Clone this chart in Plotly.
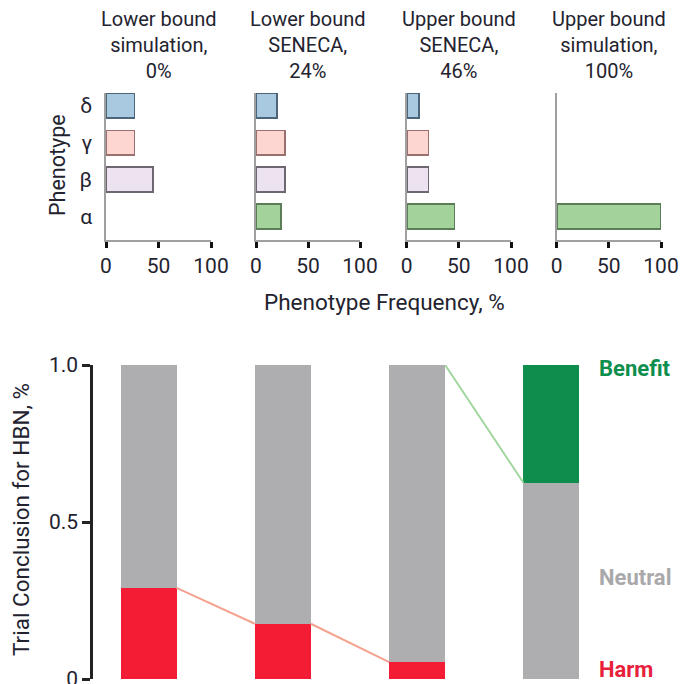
import plotly.graph_objects as go

# ---------------- data ----------------
phenotypes = ["α", "β", "γ", "δ"]
scenario_titles = [
    "Lower bound<br>simulation,<br>0%",
    "Lower bound<br>SENECA,<br>24%",
    "Upper bound<br>SENECA,<br>46%",
    "Upper bound<br>simulation,<br>100%",
]
freq_lower_sim = [0, 45, 27, 27]
freq_lower_seneca = [24, 28, 28, 20]
freq_upper_seneca = [46, 21, 21, 12]
freq_upper_sim = [100, 0, 0, 0]
freq_ticks = [0, 50, 100]

harm = [0.29, 0.176, 0.054, 0.0]
neutral = [0.71, 0.824, 0.946, 0.625]
benefit = [0.0, 0.0, 0.0, 0.375]
conclusion_ticks = [0, 0.5, 1.0]
conclusion_ticktext = ["0", "0.5", "1.0"]

# ---------------- style ----------------
W, H = 681, 684
FONT = "Roboto, DejaVu Sans, Liberation Sans, sans-serif"
TXT = "#23232f"
pheno_colors = ["#a3d39b", "#ede2f0", "#fdd6d1", "#a9c9e1"]
pheno_edges = ["#5b7d57", "#6e6670", "#9a6f6d", "#4d6578"]
c_harm, c_neutral, c_benefit = "#f41c34", "#aeaeb0", "#0e8e4d"

panel_px = [(106, 211), (256, 360), (406.7, 511), (556.7, 661)]
top_y_px = (93, 240)

freqs = [freq_lower_sim, freq_lower_seneca, freq_upper_seneca, freq_upper_sim]

fig = go.Figure()
layout = dict(
    template="none",
    width=W, height=H, margin=dict(l=0, r=0, t=0, b=0, pad=0), autosize=False,
    paper_bgcolor="white", plot_bgcolor="white", showlegend=False,
    barmode="stack", font=dict(family=FONT, color=TXT, size=20),
)
annotations = []

for i, (vals, title) in enumerate(zip(freqs, scenario_titles)):
    ax = "" if i == 0 else str(i + 1)
    fig.add_trace(go.Bar(
        x=vals, y=phenotypes, orientation="h", width=0.67,
        marker=dict(color=pheno_colors,
                    line=dict(color=pheno_edges, width=[1.6 if v > 0 else 0 for v in vals])),
        xaxis="x" + ax, yaxis="y" + ax,
    ))
    x0, x1 = panel_px[i]
    layout["xaxis" + ax] = dict(
        domain=[x0 / W, x1 / W], range=[0, 100], anchor="y" + ax, automargin=False,
        tickvals=freq_ticks, showgrid=False, zeroline=False,
        showline=True, linecolor="#a0a0a0", linewidth=1.5,
        ticks="outside", ticklen=6, tickwidth=3, tickcolor="#111",
        tickfont=dict(size=21, color=TXT), fixedrange=True, ticklabeloverflow="allow",
    )
    layout["yaxis" + ax] = dict(
        domain=[1 - top_y_px[1] / H, 1 - top_y_px[0] / H], anchor="x" + ax, automargin=False,
        type="category", categoryorder="array", categoryarray=phenotypes,
        range=[-0.64, 3.35], showgrid=False, zeroline=False,
        showline=True, linecolor="#a0a0a0", linewidth=1.5,
        showticklabels=(i == 0), ticks="", ticklabelstandoff=8,
        tickfont=dict(size=21, color=TXT), fixedrange=True,
    )
    annotations.append(dict(
        text=title, x=(x0 + x1) / 2 / W, y=1 - 5 / H, xref="paper", yref="paper",
        xanchor="center", yanchor="top", showarrow=False,
        font=dict(size=20, color=TXT),
    ))

annotations.append(dict(
    text="Phenotype", x=58 / W, y=1 - 165 / H, xref="paper", yref="paper",
    xanchor="center", yanchor="middle",
    textangle=-90, showarrow=False, font=dict(size=21.5, color=TXT),
))
annotations.append(dict(
    text="Phenotype Frequency, %", x=384 / W, y=1 - 302 / H, xref="paper", yref="paper",
    xanchor="center", yanchor="middle",
    showarrow=False, font=dict(size=22.5, color=TXT),
))

# ---------------- bottom stacked chart ----------------
pos = list(range(len(harm)))
bw = 0.417
for vals, col in [(harm, c_harm), (neutral, c_neutral), (benefit, c_benefit)]:
    fig.add_trace(go.Bar(
        x=pos, y=vals, width=bw, marker=dict(color=col, line=dict(width=0)),
        xaxis="x5", yaxis="y5",
    ))

def connectors(cum, pairs):
    xs, ys = [], []
    for a, b in pairs:
        xs += [pos[a] + bw / 2, pos[b] - bw / 2, None]
        ys += [cum[a], cum[b], None]
    return xs, ys

hx, hy = connectors(harm, [(0, 1), (1, 2)])
fig.add_trace(go.Scatter(x=hx, y=hy, mode="lines", line=dict(color="#f6a290", width=2),
                         xaxis="x5", yaxis="y5"))
top_neutral = [h + n for h, n in zip(harm, neutral)]
bx, by = connectors(top_neutral, [(2, 3)])
fig.add_trace(go.Scatter(x=bx, y=by, mode="lines", line=dict(color="#a2d5a0", width=2),
                         xaxis="x5", yaxis="y5"))

spacing = 134.3
left_px = 93
layout["xaxis5"] = dict(
    domain=[left_px / W, 1], range=[-(148.5 - left_px) / spacing, 3 + (W - 551.5) / spacing],
    anchor="y5", automargin=False, showgrid=False, zeroline=False, showline=False,
    showticklabels=False, ticks="", fixedrange=True,
)
layout["yaxis5"] = dict(
    domain=[5 / H, 1 - 365 / H], range=[0, 1], anchor="x5", automargin=False,
    tickvals=conclusion_ticks, ticktext=conclusion_ticktext, ticklabeloverflow="allow",
    showgrid=False, zeroline=False, showline=True, linecolor="#222", linewidth=2.5,
    ticks="outside", ticklen=8, tickwidth=2.5, tickcolor="#222",
    tickfont=dict(size=21, color=TXT), fixedrange=True,
)
annotations.append(dict(
    text="Trial Conclusion for HBN, %", x=21 / W, y=1 - 520 / H, xref="paper", yref="paper",
    xanchor="center", yanchor="middle",
    textangle=-90, showarrow=False, font=dict(size=22.5, color=TXT),
))
lab_x = 3 + (597 - 551.5) / spacing
for txt, ypx, col in [("Benefit", 368, c_benefit), ("Neutral", 577, "#a9a9ab"), ("Harm", None, "#e8213b")]:
    if ypx is None:
        yy, anc = 0, "bottom"
    else:
        yy, anc = 1 - ypx / H, "middle"
    annotations.append(dict(
        text="<b>" + txt + "</b>", x=lab_x, y=yy, xref="x5", yref="paper",
        xanchor="left", yanchor=anc, showarrow=False,
        font=dict(size=22, color=col),
    ))

layout["annotations"] = annotations
fig.update_layout(**layout)
fig.write_html("out.html", config={"displayModeBar": False},
               post_script="document.body.style.margin='0px';")
